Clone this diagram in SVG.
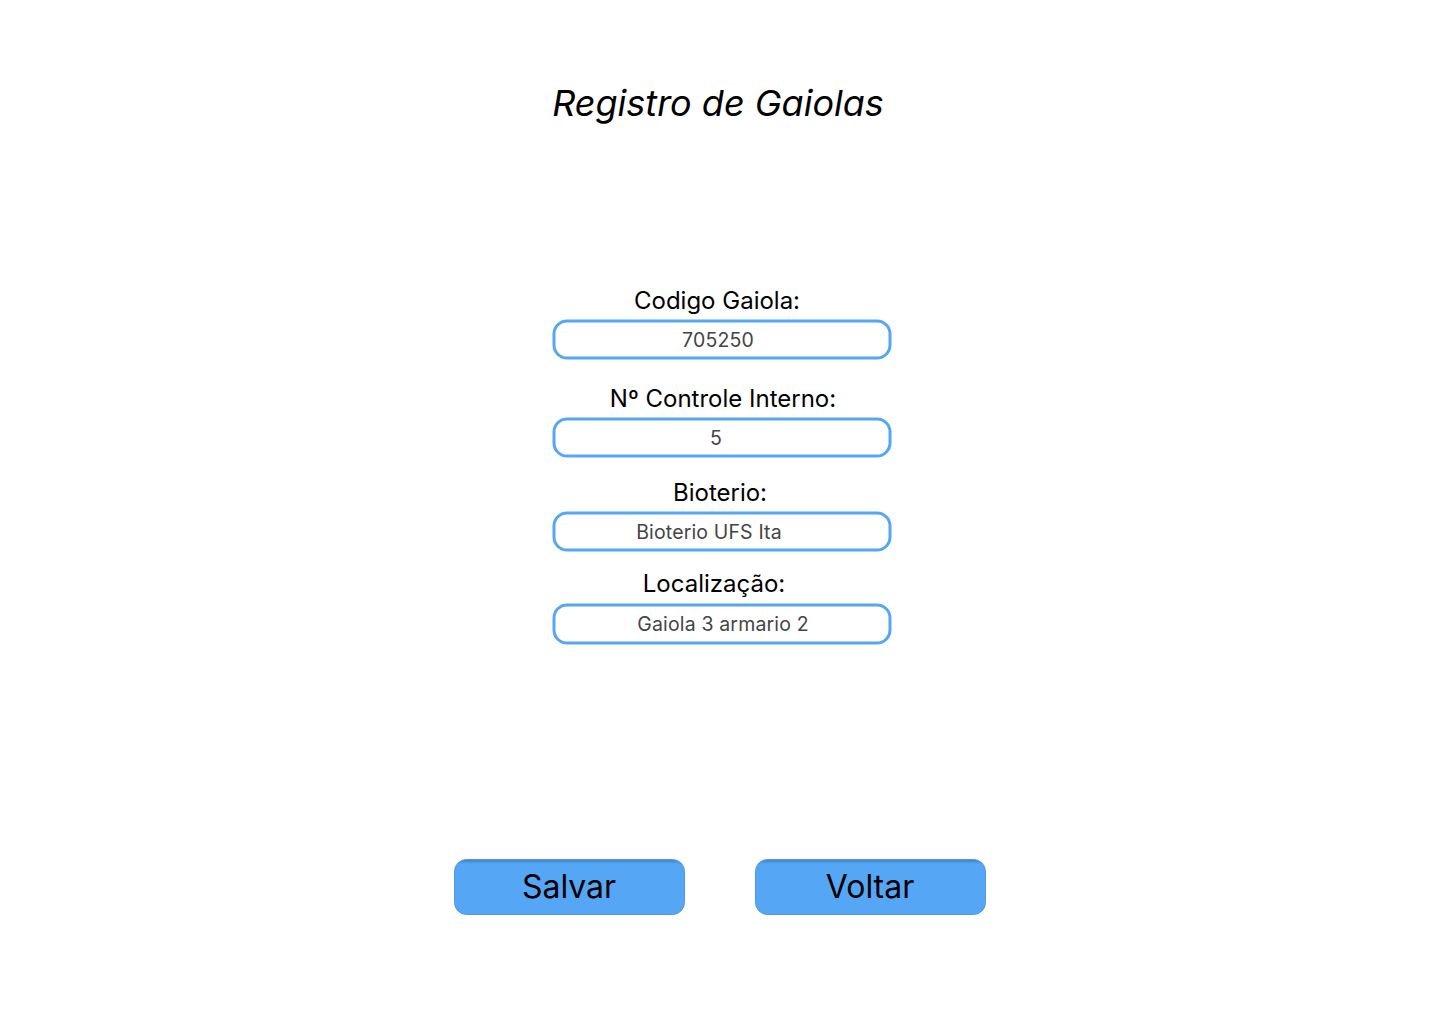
<svg xmlns="http://www.w3.org/2000/svg" width="1440" height="1024" viewBox="0 0 1440 1024">
<style>
.t{font-family:Inter,"Noto Sans","Liberation Sans",sans-serif;text-anchor:middle}
.title{font-size:36px;font-style:italic;fill:#000}
.lbl{font-size:24px;fill:#000}
.val{font-size:19.5px;fill:#444;letter-spacing:0.15px}
.box{fill:#fff;stroke:#55a6f5;stroke-width:3}
.btxt{font-size:32px;fill:#000}
</style>
<defs>
<linearGradient id="tops" x1="0" y1="0" x2="0" y2="1">
<stop offset="0" stop-color="#3d7fc4"/>
<stop offset="0.08" stop-color="#55a6f5"/>
<stop offset="1" stop-color="#55a6f5"/>
</linearGradient>
</defs>
<rect width="1440" height="1024" fill="#fff"/>
<g id="title"><text class="t title" x="718" y="116">Registro de Gaiolas</text></g>
<g id="codigo">
<text class="t lbl" x="717" y="309">Codigo Gaiola:</text>
<rect class="box" x="554" y="321" width="336" height="37" rx="13"/>
<text class="t val" x="718" y="347">705250</text>
</g>
<g id="controle">
<text class="t lbl" x="723" y="407">Nº Controle Interno:</text>
<rect class="box" x="554" y="419" width="336" height="37" rx="13"/>
<text class="t val" x="716" y="445">5</text>
</g>
<g id="bioterio">
<text class="t lbl" x="720" y="501">Bioterio:</text>
<rect class="box" x="554" y="513" width="336" height="37" rx="13"/>
<text class="t val" x="709" y="539">Bioterio UFS Ita</text>
</g>
<g id="localizacao">
<text class="t lbl" x="714" y="592">Localização:</text>
<rect class="box" x="554" y="605" width="336" height="38" rx="13"/>
<text class="t val" x="723" y="631">Gaiola 3 armario 2</text>
</g>
<g id="salvar">
<rect x="454.5" y="859.5" width="230" height="55" rx="12" fill="url(#tops)" stroke="#5298e0" stroke-width="1"/>
<text class="t btxt" x="569" y="898">Salvar</text>
</g>
<g id="voltar">
<rect x="755.5" y="859.5" width="230" height="55" rx="12" fill="url(#tops)" stroke="#5298e0" stroke-width="1"/>
<text class="t btxt" x="870" y="898">Voltar</text>
</g>
<g id="connectors"/>
</svg>
